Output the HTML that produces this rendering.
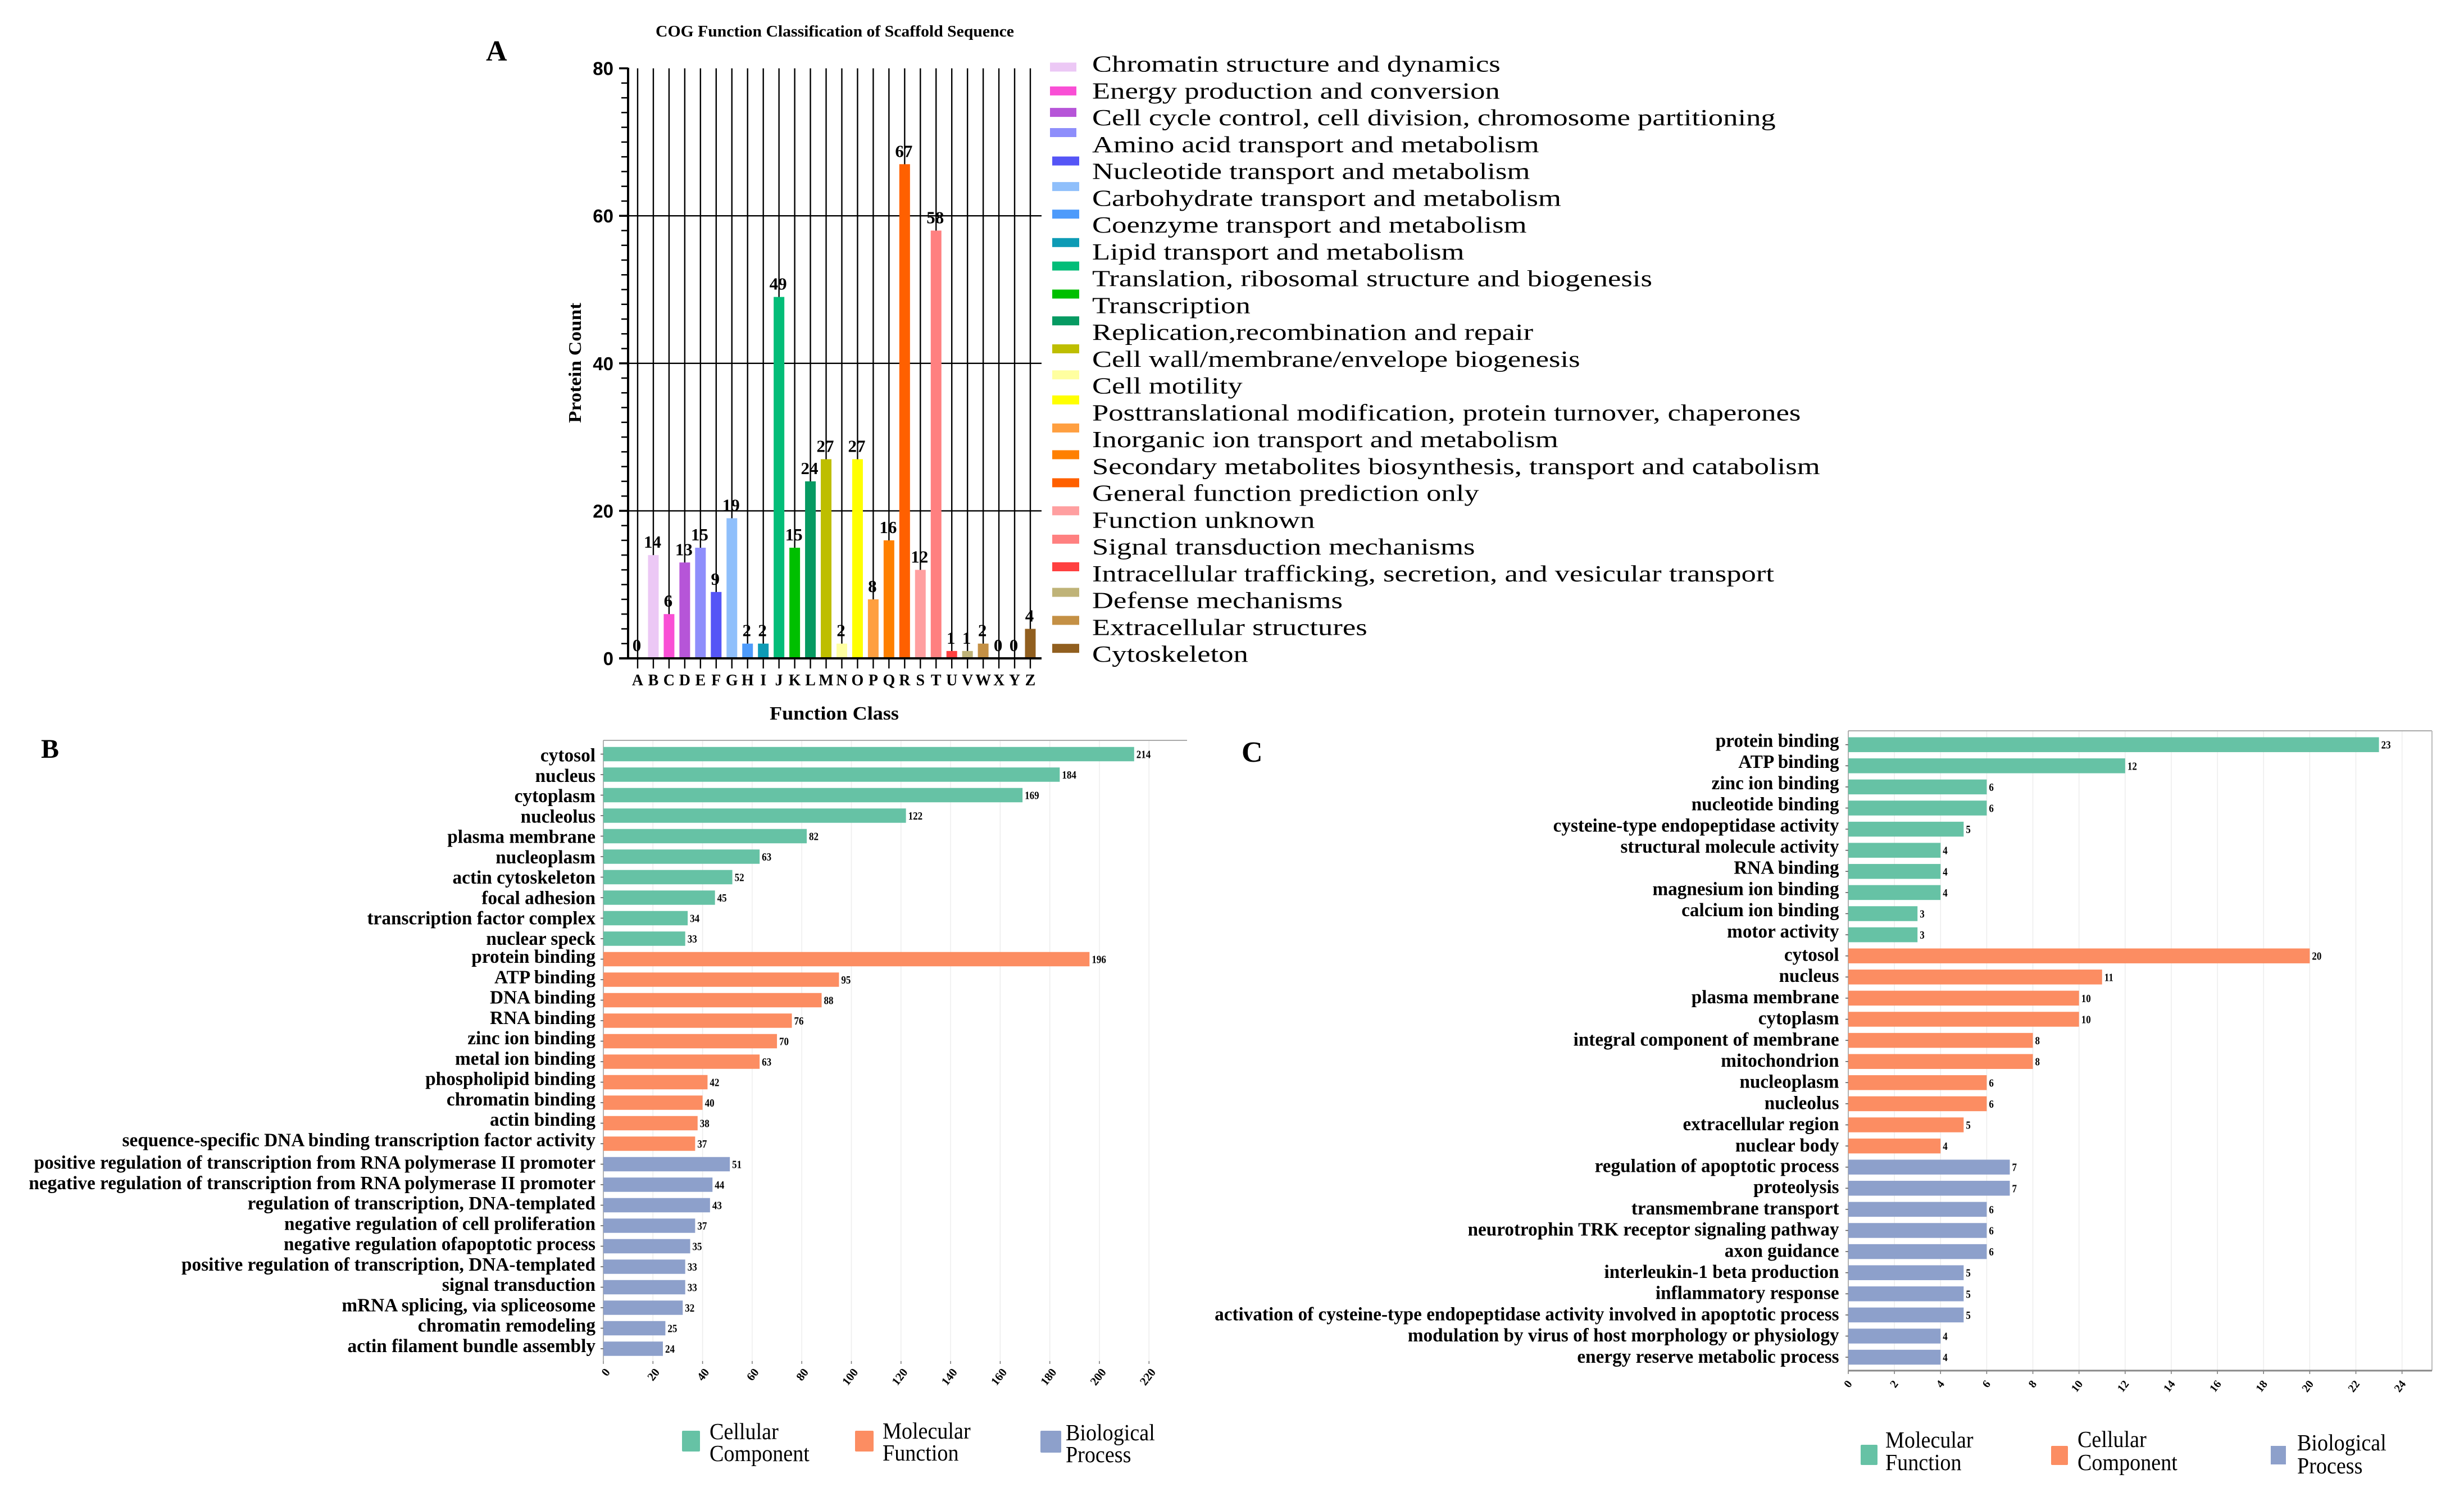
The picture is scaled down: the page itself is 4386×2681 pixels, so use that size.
<!DOCTYPE html>
<html lang="en">
<head>
<meta charset="utf-8">
<title>COG and GO classification charts</title>
<style>
html,body{margin:0;padding:0;background:#fff;}
body{width:4386px;height:2681px;overflow:hidden;}
svg{display:block;}
text{font-family:"Liberation Serif",serif;fill:#000;}
.b{font-weight:bold;}
.lg-a{font-size:41px;}
.lg-s{font-size:41px;}
</style>
</head>
<body>
<svg id="figure" xmlns="http://www.w3.org/2000/svg" width="4386" height="2681" viewBox="0 0 4386 2681">
<rect x="0" y="0" width="4386" height="2681" fill="#fff"/>
<text class="b" x="865" y="108" font-size="52">A</text>
<text class="b" x="73" y="1349" font-size="48">B</text>
<text class="b" x="2210" y="1356" font-size="52">C</text>
<text class="b" x="1167" y="65" font-size="29" textLength="638" lengthAdjust="spacingAndGlyphs">COG Function Classification of Scaffold Sequence</text>
<text class="b" transform="translate(1034,753) rotate(-90)" x="0" y="0" font-size="32" textLength="214" lengthAdjust="spacingAndGlyphs">Protein Count</text>
<text class="b" x="1370" y="1281" font-size="34" textLength="230" lengthAdjust="spacingAndGlyphs">Function Class</text>

<g id="chart-a"></g>

<g id="legend-a">
<rect x="1869" y="111.4" width="47" height="16" fill="#ECC8F5"/>
<rect x="1869" y="153.9" width="47" height="16" fill="#F94FD5"/>
<rect x="1869" y="192.1" width="47" height="16" fill="#B655D8"/>
<rect x="1869" y="228" width="47" height="16" fill="#8E8EFB"/>
<rect x="1873" y="278.6" width="48" height="16" fill="#5555F6"/>
<rect x="1873" y="324.1" width="48" height="16" fill="#8FBFFB"/>
<rect x="1873" y="373.2" width="48" height="16" fill="#4E9BFB"/>
<rect x="1873" y="423.8" width="48" height="16" fill="#0E9BB5"/>
<rect x="1873" y="465.6" width="48" height="16" fill="#03BD78"/>
<rect x="1873" y="515.5" width="48" height="16" fill="#00BF00"/>
<rect x="1873" y="563.2" width="48" height="16" fill="#069A62"/>
<rect x="1873" y="613" width="48" height="16" fill="#BEBE00"/>
<rect x="1873" y="659.3" width="48" height="16" fill="#FFFFA0"/>
<rect x="1873" y="704" width="48" height="16" fill="#FFFF00"/>
<rect x="1873" y="753.9" width="48" height="16" fill="#FF9F40"/>
<rect x="1873" y="801.5" width="48" height="16" fill="#FF8000"/>
<rect x="1873" y="851.4" width="48" height="16" fill="#FF6000"/>
<rect x="1873" y="901.3" width="48" height="16" fill="#FF9FA0"/>
<rect x="1873" y="951.9" width="48" height="16" fill="#FF8080"/>
<rect x="1873" y="1001" width="48" height="16" fill="#FF4040"/>
<rect x="1873" y="1046.5" width="48" height="16" fill="#BFB378"/>
<rect x="1873" y="1096.4" width="48" height="16" fill="#C49045"/>
<rect x="1873" y="1146.2" width="48" height="16" fill="#915F1F"/>
<text class="lg-a" y="127.5">Chromatin structure and dynamics</text>
<text class="lg-a" y="175.3">Energy production and conversion</text>
<text class="lg-a" y="223">Cell cycle control, cell division, chromosome partitioning</text>
<text class="lg-a" y="270.8">Amino acid transport and metabolism</text>
<text class="lg-a" y="318.5">Nucleotide transport and metabolism</text>
<text class="lg-a" y="366.3">Carbohydrate transport and metabolism</text>
<text class="lg-a" y="414">Coenzyme transport and metabolism</text>
<text class="lg-a" y="461.8">Lipid transport and metabolism</text>
<text class="lg-a" y="509.5">Translation, ribosomal structure and biogenesis</text>
<text class="lg-a" y="557.3">Transcription</text>
<text class="lg-a" y="605">Replication,recombination and repair</text>
<text class="lg-a" y="652.8">Cell wall/membrane/envelope biogenesis</text>
<text class="lg-a" y="700.5">Cell motility</text>
<text class="lg-a" y="748.3">Posttranslational modification, protein turnover, chaperones</text>
<text class="lg-a" y="796">Inorganic ion transport and metabolism</text>
<text class="lg-a" id="legend-longest" y="843.8">Secondary metabolites biosynthesis, transport and catabolism</text>
<text class="lg-a" y="891.5">General function prediction only</text>
<text class="lg-a" y="939.3">Function unknown</text>
<text class="lg-a" y="987">Signal transduction mechanisms</text>
<text class="lg-a" y="1034.8">Intracellular trafficking, secretion, and vesicular transport</text>
<text class="lg-a" y="1082.5">Defense mechanisms</text>
<text class="lg-a" y="1130.3">Extracellular structures</text>
<text class="lg-a" y="1178">Cytoskeleton</text>
</g>

<g id="chart-b"></g>
<g id="chart-c"></g>

<g id="legend-b">
<rect x="1214" y="2547" width="32" height="37" rx="2" fill="#66C2A5"/>
<text class="lg-s" data-x="1263" y="2562">Cellular</text>
<text class="lg-s" data-x="1263" y="2601">Component</text>
<rect x="1522" y="2547" width="33" height="37" rx="2" fill="#FC8D62"/>
<text class="lg-s" data-x="1571" y="2561">Molecular</text>
<text class="lg-s" data-x="1571" y="2600">Function</text>
<rect x="1852" y="2547" width="37" height="39" rx="2" fill="#8DA0CB"/>
<text class="lg-s" data-x="1897" y="2564">Biological</text>
<text class="lg-s" data-x="1897" y="2603">Process</text>
</g>

<g id="legend-c">
<rect x="3312" y="2572" width="30" height="36" rx="2" fill="#66C2A5"/>
<text class="lg-s" data-x="3356" y="2577">Molecular</text>
<text class="lg-s" data-x="3356" y="2617">Function</text>
<rect x="3651" y="2574" width="30" height="34" rx="2" fill="#FC8D62"/>
<text class="lg-s" data-x="3698" y="2576">Cellular</text>
<text class="lg-s" data-x="3698" y="2617">Component</text>
<rect x="4042" y="2574" width="27" height="33" fill="#8DA0CB"/>
<text class="lg-s" data-x="4089" y="2582">Biological</text>
<text class="lg-s" data-x="4089" y="2623">Process</text>
</g>
</svg>

<script>
// ---------- Chart A data ----------
const cogCategories = ["A","B","C","D","E","F","G","H","I","J","K","L","M","N","O","P","Q","R","S","T","U","V","W","X","Y","Z"];
const cogValues = [0,14,6,13,15,9,19,2,2,49,15,24,27,2,27,8,16,67,12,58,1,1,2,0,0,4];
const cogColors = ["#cccccc","#ECC8F5","#F94FD5","#B655D8","#8E8EFB","#5555F6","#8FBFFB","#4E9BFB","#0E9BB5","#03BD78","#00BF00","#069A62","#BEBE00","#FFFFA0","#FFFF00","#FF9F40","#FF8000","#FF6000","#FF9FA0","#FF8080","#FF4040","#BFB378","#C49045","#cccccc","#cccccc","#915F1F"];
const cogMajorTicks = [0,20,40,60,80];
const cogMinorStep = 2;

// ---------- Chart B data ----------
const bCategories = ["cytosol","nucleus","cytoplasm","nucleolus","plasma membrane","nucleoplasm","actin cytoskeleton","focal adhesion","transcription factor complex","nuclear speck","protein binding","ATP binding","DNA binding","RNA binding","zinc ion binding","metal ion binding","phospholipid binding","chromatin binding","actin binding","sequence-specific DNA binding transcription factor activity","positive regulation of transcription from RNA polymerase II promoter","negative regulation of transcription from RNA polymerase II promoter","regulation of transcription, DNA-templated","negative regulation of cell proliferation","negative regulation ofapoptotic process","positive regulation of transcription, DNA-templated","signal transduction","mRNA splicing, via spliceosome","chromatin remodeling","actin filament bundle assembly"];
const bValues = [214,184,169,122,82,63,52,45,34,33,196,95,88,76,70,63,42,40,38,37,51,44,43,37,35,33,33,32,25,24];
const bGroups = [0,0,0,0,0,0,0,0,0,0,1,1,1,1,1,1,1,1,1,1,2,2,2,2,2,2,2,2,2,2];
const bTicks = [0,20,40,60,80,100,120,140,160,180,200,220];

// ---------- Chart C data ----------
const cCategories = ["protein binding","ATP binding","zinc ion binding","nucleotide binding","cysteine-type endopeptidase activity","structural molecule activity","RNA binding","magnesium ion binding","calcium ion binding","motor activity","cytosol","nucleus","plasma membrane","cytoplasm","integral component of membrane","mitochondrion","nucleoplasm","nucleolus","extracellular region","nuclear body","regulation of apoptotic process","proteolysis","transmembrane transport","neurotrophin TRK receptor signaling pathway","axon guidance","interleukin-1 beta production","inflammatory response","activation of cysteine-type endopeptidase activity involved in apoptotic process","modulation by virus of host morphology or physiology","energy reserve metabolic process"];
const cValues = [23,12,6,6,5,4,4,4,3,3,20,11,10,10,8,8,6,6,5,4,7,7,6,6,6,5,5,5,4,4];
const cGroups = [0,0,0,0,0,0,0,0,0,0,1,1,1,1,1,1,1,1,1,1,2,2,2,2,2,2,2,2,2,2];
const cTicks = [0,2,4,6,8,10,12,14,16,18,20,22,24];

const groupColors = ["#66C2A5","#FC8D62","#8DA0CB"];

const NS = "http://www.w3.org/2000/svg";
function mk(tag, parent, props, txt) {
  const el = document.createElementNS(NS, tag);
  for (const k in props) el.setAttribute(k, props[k]);
  if (txt !== undefined) el.textContent = txt;
  parent.appendChild(el);
  return el;
}
function slug(s) {
  return String(s).toLowerCase().replace(/[^a-z0-9]+/g, "-").replace(/^-|-$/g, "");
}

// ---------- Chart A ----------
(function () {
  const g = document.getElementById("chart-a");
  const y = v => 1172 - v * 13.13;
  const x = i => 1135 + i * 27.96;

  cogCategories.forEach((c, i) => {
    const ln = mk("line", g, {x1: x(i), x2: x(i), y1: y(80), y2: 1190, stroke: "#000", "stroke-width": 2.4});
    
    
  });
  cogMajorTicks.forEach(t => {
    if (t === 0 || t === 80) return;
    const ln = mk("line", g, {x1: 1102, x2: 1854, y1: y(t), y2: y(t), stroke: "#000", "stroke-width": 2.4});
    
    
  });
  for (let t = 0; t <= 80; t += cogMinorStep) {
    const major = cogMajorTicks.indexOf(t) >= 0;
    const ln = mk("line", g, {x1: major ? 1102 : 1106, x2: 1118, y1: y(t), y2: y(t), stroke: "#000", "stroke-width": major ? 3.5 : 2.5});
    
    
  }
  cogMajorTicks.forEach(t => {
    const tx = mk("text", g, {x: 1092, y: y(t) + 12, "text-anchor": "end", "font-size": 33, "font-weight": "bold", style: 'font-family:"Liberation Sans",sans-serif'}, t);
    
    
  });
  cogCategories.forEach((c, i) => {
    const bar = mk("rect", g, {x: x(i) - 9.5, y: y(cogValues[i]), width: 19, height: y(0) - y(cogValues[i]), fill: cogColors[i]});
    
    
  });
  const xAxis = mk("line", g, {x1: 1102, x2: 1854, y1: y(0), y2: y(0), stroke: "#000", "stroke-width": 4});
  
  
  const yAxis = mk("line", g, {x1: 1118, x2: 1118, y1: y(80) - 1, y2: y(0) + 2, stroke: "#000", "stroke-width": 4});
  
  
  cogCategories.forEach((c, i) => {
    const lab = mk("text", g, {x: x(i), y: 1220, "text-anchor": "middle", "font-size": 28, class: "b"}, c);
    
    
    const val = mk("text", g, {x: x(i) - 1.5, y: y(cogValues[i]) - 13, "text-anchor": "middle", "font-size": 31, class: "b"}, cogValues[i]);
    
    
  });
})();

// ---------- Legend text fit ----------
(function () {
  const longest = document.getElementById("legend-longest");
  const sx = 1296 / longest.getComputedTextLength();
  document.querySelectorAll(".lg-a").forEach(t => {
    t.setAttribute("x", 1944 / sx);
    t.setAttribute("transform", "scale(" + sx + ",1)");
  });
  const sxSmall = 0.93;
  document.querySelectorAll(".lg-s").forEach(t => {
    t.setAttribute("x", Number(t.getAttribute("data-x")) / sxSmall);
    t.setAttribute("transform", "scale(" + sxSmall + ",1)");
  });
})();

// ---------- Horizontal bar charts B & C ----------
function drawHBar(host, cats, vals, groups, ticks, o) {
  const g = document.getElementById(host);
  const x = v => o.x0 + v * o.k;
  const y = i => o.y0 + i * o.step;

  ticks.forEach(t => {
    if (t > 0) {
      const gl = mk("line", g, {x1: x(t), x2: x(t), y1: o.top, y2: o.bottom, stroke: "#EDEDED", "stroke-width": 1.5});
      
      
    }
    const tk = mk("line", g, {x1: x(t), x2: x(t), y1: o.bottom - o.tickUp, y2: o.bottom + o.tickDown, stroke: "#777", "stroke-width": 1.5});
    
    
    const lab = mk("text", g, {"text-anchor": "end", "font-size": o.tickFont, "font-weight": "bold", "dominant-baseline": "middle",
      transform: "translate(" + (x(t) + o.tickDx) + "," + o.tickY + ") rotate(-52)"}, t);
    
    
  });

  const topLine = mk("line", g, {x1: o.x0, x2: o.right, y1: o.top, y2: o.top, stroke: "#aaa", "stroke-width": 2});
  
  
  const leftLine = mk("line", g, {x1: o.x0, x2: o.x0, y1: o.top, y2: o.bottom, stroke: "#999", "stroke-width": 1.5});
  
  
  if (o.frame) {
    const r = mk("line", g, {x1: o.right, x2: o.right, y1: o.top, y2: o.bottom, stroke: "#bbb", "stroke-width": 2});
    
    
    const b = mk("line", g, {x1: o.x0, x2: o.right, y1: o.bottom, y2: o.bottom, stroke: "#888", "stroke-width": 3});
    
    
  }

  // width fit for labels, measured against the longest label
  const probe = mk("text", g, {"font-size": o.labelFont, class: "b", visibility: "hidden"}, o.refLabel);
  const sx = o.refWidth / probe.getComputedTextLength();
  g.removeChild(probe);

  cats.forEach((c, i) => {
    const name = slug(c);
    const tk = mk("line", g, {x1: o.x0 - 5, x2: o.x0, y1: y(i), y2: y(i), stroke: "#555", "stroke-width": 1.5});
    
    
    const bar = mk("rect", g, {x: o.x0, y: y(i) - o.barH / 2, width: x(vals[i]) - o.x0, height: o.barH, fill: groupColors[groups[i]]});
    
    
    const lab = mk("text", g, {"text-anchor": "end", "font-size": o.labelFont, class: "b",
      transform: "translate(" + o.labelX + "," + (o.labelY0 + i * o.labelStep + o.groupShift[groups[i]]) + ") scale(" + sx + ",1)"}, c);
    
    
    const val = mk("text", g, {"font-size": 20, class: "b",
      transform: "translate(" + (x(vals[i]) + 4) + "," + (y(i) + 7) + ") scale(0.85,1)"}, vals[i]);
    
    
  });
}

drawHBar("chart-b", bCategories, bValues, bGroups, bTicks, {
  x0: 1074, k: 4.415, y0: 1342.5, step: 36.5, barH: 25.5, top: 1318, bottom: 2428, right: 2113,
  tickUp: 5, tickDown: 0, tickFont: 21, tickY: 2440, tickDx: 9, labelFont: 34, labelX: 1060, labelY0: 1355.5, labelStep: 36.25,
  groupShift: [0, -4, 0],
  refLabel: "negative regulation of transcription from RNA polymerase II promoter", refWidth: 1009, frame: false
});
drawHBar("chart-c", cCategories, cValues, cGroups, cTicks, {
  x0: 3290, k: 41.07, y0: 1325.7, step: 37.6, barH: 26.5, top: 1301, bottom: 2440, right: 4329,
  tickUp: 0, tickDown: 6, tickFont: 20, tickY: 2461, tickDx: 4, labelFont: 34, labelX: 3273.6, labelY0: 1329.5, labelStep: 37.7,
  groupShift: [0, 4, 3],
  refLabel: "activation of cysteine-type endopeptidase activity involved in apoptotic process", refWidth: 1112, frame: true
});
</script>
</body>
</html>
